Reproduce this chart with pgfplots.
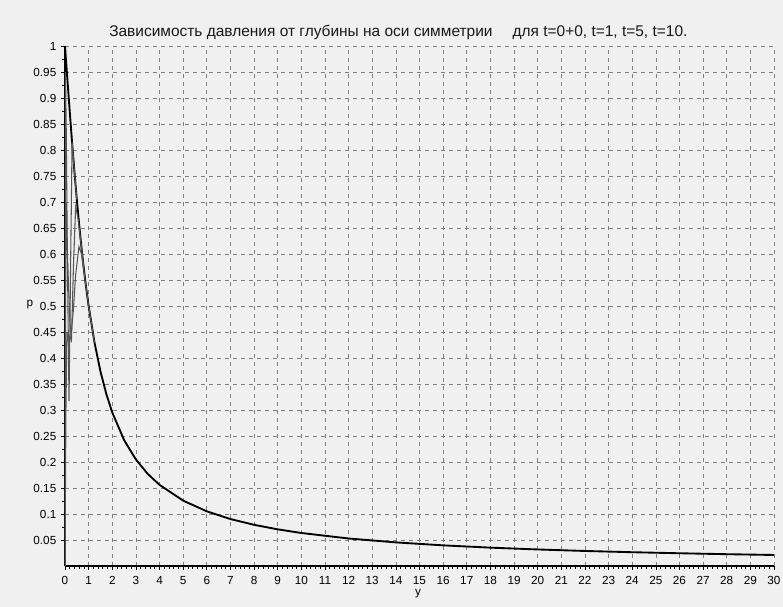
\documentclass[border=0pt]{standalone}
\usepackage{pgfplots}
\pgfplotsset{compat=1.18}
\usepackage{fontspec}
\setmainfont{Liberation Sans}
\definecolor{bgc}{HTML}{F0F0F0}
\definecolor{gridc}{HTML}{808080}
\definecolor{tc}{HTML}{555555}
\begin{document}
\begin{tikzpicture}
\fill[bgc] (-48.75pt,-30.75pt) rectangle (538.5pt,424.5pt);
\path[use as bounding box] (-48.75pt,-30.75pt) rectangle (538.5pt,424.5pt);
\begin{axis}[
  at={(0,0)}, anchor=south west,
  scale only axis, width=531.75pt, height=390pt,
  xmin=0, xmax=30, ymin=0, ymax=1,
  axis x line=bottom, axis y line=left,
  axis line style={black, line width=1.3pt, -},
  xtick={0,1,...,30},
  ytick={0.05,0.1,0.15,0.2,0.25,0.3,0.35,0.4,0.45,0.5,0.55,0.6,0.65,0.7,0.75,0.8,0.85,0.9,0.95,1},
  minor x tick num=4, minor y tick num=1,
  tick align=outside,
  major tick length=3pt, minor tick length=2pt,
  tick style={black, line width=0.5pt},
  grid=major,
  major grid style={gridc, dashed, line width=0.5pt},
  /pgf/number format/assume math mode=true,
  /pgf/number format/fixed, /pgf/number format/precision=2,
  ticklabel style={font=\fontsize{8.8pt}{10pt}\selectfont, text=black},
  xticklabel style={yshift=-1pt},
  clip=true,
]
% t = 0+0
\addplot[black, line width=1.4pt] coordinates {
(0,0) (0,1) (0.05,0.9682) (0.1,0.9365) (0.2,0.8743) (0.3,0.8144) (0.4,0.7578)
(0.5,0.7048) (0.6,0.6560) (0.7,0.6112) (0.8,0.5705) (0.9,0.5335) (1,0.5)
(1.25,0.4295) (1.5,0.3743) (1.75,0.3305) (2,0.2952) (2.5,0.2422) (3,0.2048)
(3.5,0.1772) (4,0.1560) (5,0.1257) (6,0.1051) (7,0.0903) (8,0.0792) (9,0.0705)
(10,0.0635) (12,0.0529) (14,0.0454) (16,0.0397) (18,0.0353) (20,0.0318)
(22,0.0289) (24,0.0265) (26,0.0245) (28,0.0227) (30,0.0212)};
% t = 1
\addplot[tc, line width=0.8pt] coordinates {
(0,0) (0.01,0.5) (0.02,0.95) (0.05,0.85) (0.1,0.6) (0.17,0.317) (0.23,0.55)
(0.3,0.815) (0.4,0.7578) (0.5,0.7048)};
% t = 5
\addplot[tc, line width=0.8pt] coordinates {
(0,0) (0.02,0.45) (0.05,0.7) (0.1,0.6) (0.2,0.48) (0.27,0.43) (0.36,0.58)
(0.45,0.69) (0.55,0.67) (0.7,0.6112) (0.8,0.5705)};
% t = 10
\addplot[tc, line width=0.8pt] coordinates {
(0,0) (0.04,0.3) (0.08,0.45) (0.15,0.43) (0.25,0.44) (0.35,0.49) (0.45,0.56)
(0.59,0.614) (0.7,0.6) (0.85,0.55) (1,0.5) (1.25,0.4295)};
\end{axis}
\node[font=\fontsize{11.6pt}{13pt}\selectfont, text=black!90] at (250pt,400.5pt)
  {Зависимость давления от глубины на оси симметрии\hspace{1.3em}для t=0+0, t=1, t=5, t=10.};
\node[font=\fontsize{8.8pt}{10pt}\selectfont] at (-26.25pt,195.75pt) {p};
\node[font=\fontsize{8.8pt}{10pt}\selectfont] at (264.75pt,-21pt) {y};
\end{tikzpicture}
\end{document}
